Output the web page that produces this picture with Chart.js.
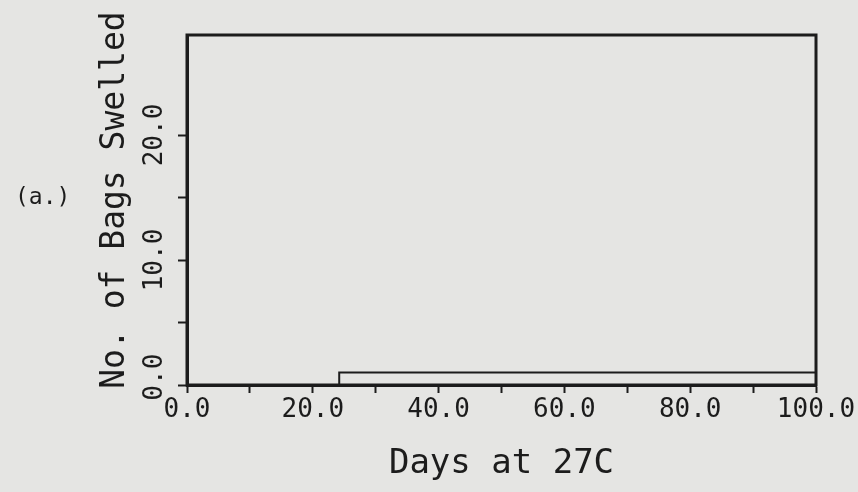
<!DOCTYPE html>
<html>
<head>
<meta charset="utf-8">
<script src="https://cdn.jsdelivr.net/npm/chart.js@4"></script>
<style>
  html, body { margin: 0; padding: 0; background: #e5e5e3; }
  #wrap { width: 858px; height: 492px; }
</style>
</head>
<body>
<div id="wrap"><canvas id="chart0"></canvas></div>
<script>
// step record: bags swelled vs days at 27C
const days = [0, 24.2, 100];
const bagsSwelled = [0, 1, 1];

// axis ranges and which ticks carry a label
const xRange = [0, 100];
const yRange = [0, 28];
const xLabeled = [0, 20, 40, 60, 80, 100];
const yLabeled = [0, 10, 20];

const ink = "#1c1c1c";
const mono = "DejaVu Sans Mono";

// border on top/right plus the panel tag
const framePlugin = {
    id: "frame",
    afterDatasetsDraw(chart) {
        const { ctx, chartArea: a } = chart;
        ctx.save();
        ctx.strokeStyle = ink;
        ctx.lineWidth = 3;
        ctx.strokeRect(a.left, a.top, a.right - a.left, a.bottom - a.top);
        ctx.fillStyle = ink;
        ctx.font = "23px '" + mono + "'";
        ctx.textBaseline = "middle";
        ctx.fillText("(a.)", 15, 198);
        ctx.restore();
    },
};

// y labels: the 0.0 one sits a bit above its tick, clear of the x labels
function yLabel(v) {
    if (!yLabeled.includes(v)) return "";
    return v === 0 ? " " + v.toFixed(1) : v.toFixed(1);
}

const ctx = document.getElementById("chart0").getContext("2d");
const chart = new Chart(ctx, {
    type: "line",
    data: {
        datasets: [
            {
                data: days.map((d, i) => ({ x: d, y: bagsSwelled[i] })),
                borderColor: ink,
                borderWidth: 2,
                stepped: "before",
                pointRadius: 0,
                fill: false,
                clip: false,
            },
        ],
    },
    options: {
        responsive: true,
        maintainAspectRatio: false,
        animation: false,
        layout: { padding: { top: 35, right: 42, left: 0, bottom: 0 } },
        plugins: {
            legend: { display: false },
            tooltip: { enabled: false },
        },
        scales: {
            x: {
                type: "linear",
                min: xRange[0],
                max: xRange[1],
                afterFit: (s) => { s.height = 107; },
                border: { display: true, color: ink, width: 3 },
                grid: {
                    drawOnChartArea: false,
                    drawTicks: true,
                    tickLength: 8,
                    tickWidth: 2,
                    color: ink,
                },
                ticks: {
                    stepSize: 10,
                    autoSkip: false,
                    maxRotation: 0,
                    padding: 2,
                    color: ink,
                    font: { family: mono, size: 26 },
                    callback: (v) => (xLabeled.includes(v) ? v.toFixed(1) : ""),
                },
                title: {
                    display: true,
                    text: "Days at 27C",
                    color: ink,
                    font: { family: mono, size: 34 },
                    padding: { top: 0, bottom: 7 },
                },
            },
            y: {
                min: yRange[0],
                max: yRange[1],
                afterFit: (s) => { s.width = 187; },
                afterBuildTicks: (s) => {
                    s.ticks = s.ticks.filter((t) => t.value % 5 === 0);
                },
                border: { display: true, color: ink, width: 3 },
                grid: {
                    drawOnChartArea: false,
                    drawTicks: true,
                    tickLength: 9,
                    tickWidth: 2,
                    color: ink,
                },
                ticks: {
                    stepSize: 5,
                    minRotation: 90,
                    maxRotation: 90,
                    crossAlign: "center",
                    padding: -9,
                    color: ink,
                    font: { family: mono, size: 26 },
                    callback: yLabel,
                },
                title: {
                    display: true,
                    text: " No. of Bags Swelled",
                    color: ink,
                    font: { family: mono, size: 33 },
                    padding: { top: 96, bottom: 0 },
                },
            },
        },
    },
    plugins: [framePlugin],
});
</script>
</body>
</html>
